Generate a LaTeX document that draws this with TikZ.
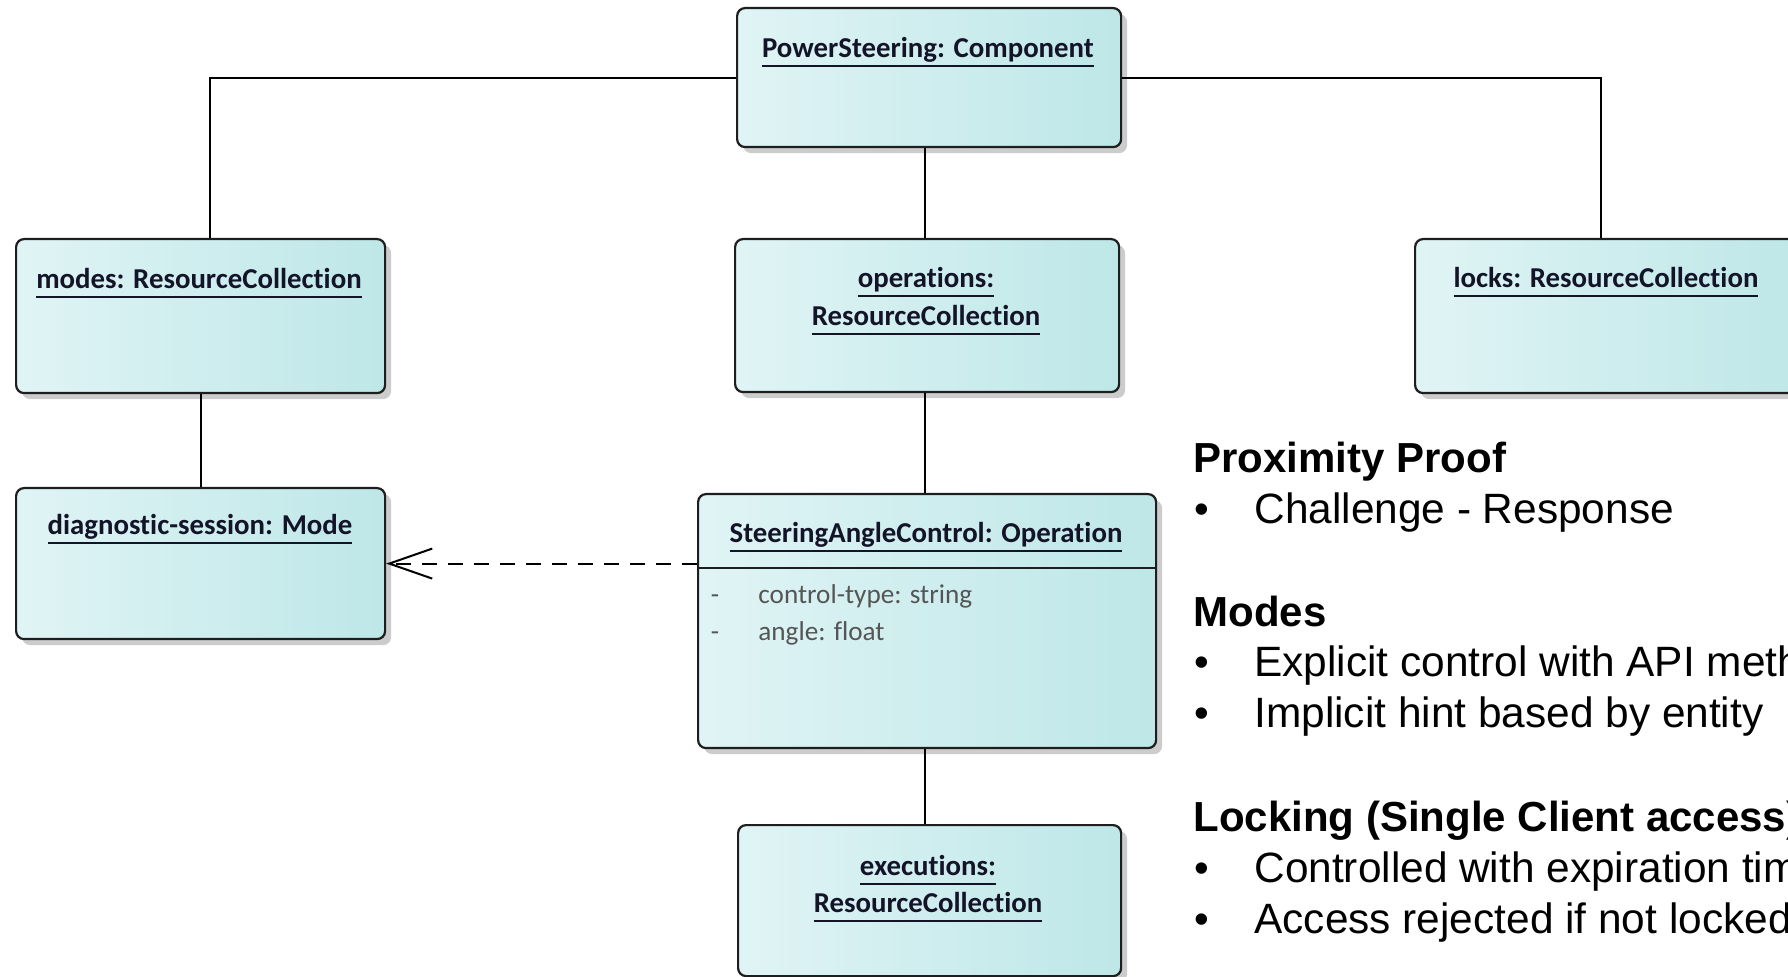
\documentclass[tikz,border=0pt]{standalone}
\usepackage{fontspec}
\setmainfont{Liberation Sans}
\newfontfamily\calib[Ligatures={NoCommon}]{Carlito}
\newfontfamily\arialf{Liberation Sans}
\usetikzlibrary{arrows.meta,shadows}
\definecolor{boxL}{RGB}{224,244,245}
\definecolor{boxR}{RGB}{190,231,232}
\definecolor{boxLine}{RGB}{30,30,30}
\definecolor{attrgray}{RGB}{85,85,85}
\definecolor{titleink}{RGB}{20,20,40}
\newsavebox\ulsave
\newcommand\ulbox[1]{\sbox\ulsave{#1}\rlap{\rule[-4.75pt]{\wd\ulsave}{1pt}}\usebox\ulsave}
\tikzset{
  box/.style={draw=boxLine, line width=1.1pt, rounded corners=4pt,
    left color=boxL, right color=boxR,
    drop shadow={shadow xshift=3pt, shadow yshift=-3pt, opacity=0.2, fill=black},
    anchor=north west, inner sep=0pt},
  title/.style={font=\calib\bfseries\fontsize{14.4}{16}\selectfont, anchor=base, inner sep=0pt, text=titleink},
  attr/.style={font=\calib\fontsize{13.6}{15}\selectfont, anchor=base west, inner sep=0pt, text=attrgray},
  dashmark/.style={font=\calib\fontsize{13.6}{15}\selectfont, anchor=base, inner sep=0pt, text=attrgray},
  conn/.style={line width=1pt, draw=black},
  head/.style={font=\arialf\bfseries\fontsize{21}{25}\selectfont, anchor=base west, inner sep=0pt},
  item/.style={font=\arialf\fontsize{21.2}{25}\selectfont, anchor=base west, inner sep=0pt},
  bul/.style={font=\arialf\fontsize{21}{25}\selectfont, anchor=base, inner sep=0pt},
}
\begin{document}
\begin{tikzpicture}[x=0.5pt, y=-0.5pt]
\useasboundingbox (0,0) rectangle (1788,977);
\fill[white] (0,0) rectangle (1788,977);
\clip (0,0) rectangle (1788,977);

% boxes
\node[box, minimum width=192pt, minimum height=69.5pt] (ps) at (736,7) {};
\node[box, minimum width=184.5pt, minimum height=77pt] (modes) at (15,238) {};
\node[box, minimum width=192pt, minimum height=76.5pt] (ops) at (734,238) {};
\node[box, minimum width=192pt, minimum height=77pt] (locks) at (1414,238) {};
\node[box, minimum width=184.5pt, minimum height=75.5pt] (diag) at (15,487) {};
\node[box, minimum width=229pt, minimum height=127pt] (sac) at (697,493) {};
\node[box, minimum width=191.5pt, minimum height=75.5pt] (exec) at (737,824) {};

% titles
\node[title] (tps) at (928,58) {\ulbox{PowerSteering: Component}};
\node[title] (tmodes) at (199,289) {\ulbox{modes: ResourceCollection}};
\node[title] (tops1) at (926,288) {\ulbox{operations:}};
\node[title] (tops2) at (926,326) {\ulbox{ResourceCollection}};
\node[title] (tlocks) at (1606,288) {\ulbox{locks: ResourceCollection}};
\node[title] (tdiag) at (200,535) {\ulbox{diagnostic-session: Mode}};
\node[title] (tsac) at (926,543) {\ulbox{SteeringAngleControl: Operation}};
\node[title] (texec1) at (928,875) {\ulbox{executions:}};
\node[title] (texec2) at (928,912) {\ulbox{ResourceCollection}};

% attribute compartment
\draw[line width=1.1pt, draw=boxLine] (sac.west |- 0,568) -- (sac.east |- 0,568);
\node[dashmark] (d1) at (715,604) {-};
\node[attr] (a1) at (758,604) {control-type: string};
\node[dashmark] (d2) at (715,641) {-};
\node[attr] (a2) at (758,641) {angle: float};

% connectors
\draw[conn] ([yshift=-35.5pt]ps.north west) -| ([xshift=4.75pt]modes.north);
\draw[conn] ([yshift=-35.5pt]ps.north east) -| ([xshift=-3pt]locks.north);
\draw[conn] ([xshift=-2pt]ps.south) -- ([xshift=-1pt]ops.north);
\draw[conn] ([xshift=-1pt]ops.south) -- ([xshift=-1pt]sac.north);
\draw[conn] ([xshift=-1pt]sac.south) -- ([xshift=-1pt]sac.south |- exec.north);
\draw[conn] (modes.south) -- (modes.south |- diag.north);
\draw[conn, dash pattern=on 7.5pt off 5.5pt, -{Straight Barb[length=21.5pt,width=15pt]}]
  (sac.west |- diag.east) -- (diag.east);

% notes
\node[head] (h1) at (1193,473) {Proximity Proof};
\node[bul] (b1) at (1202,524) {•};
\node[item] (i1) at (1254,524) {Challenge - Response};
\node[head] (h2) at (1193,627) {Modes};
\node[bul] (b2) at (1202,677) {•};
\node[item] (i2) at (1254,677) {Explicit control with API methods};
\node[bul] (b3) at (1202,728) {•};
\node[item] (i3) at (1254,728) {Implicit hint based by entity};
\node[head] (h3) at (1193,831) {Locking (Single Client access)};
\node[bul] (b4) at (1202,882) {•};
\node[item] (i4) at (1254,882) {Controlled with expiration time};
\node[bul] (b5) at (1202,933) {•};
\node[item] (i5) at (1254,933) {Access rejected if not locked};
\end{tikzpicture}
\end{document}
